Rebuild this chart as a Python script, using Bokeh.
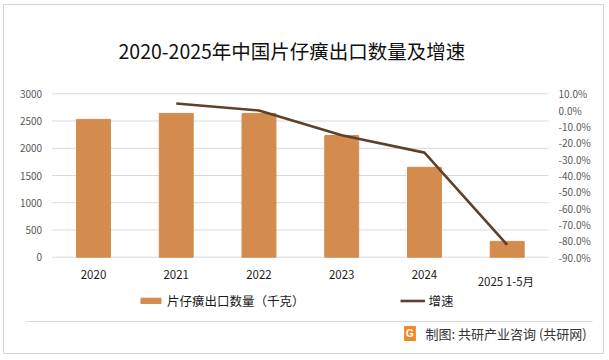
from bokeh.plotting import figure
from bokeh.models import (Range1d, LinearAxis, FixedTicker, PrintfTickFormatter, Legend,
                          LegendItem, Label, Arrow)
from bokeh.embed import file_html
from bokeh.resources import INLINE

# ---- data ----
years = ["2020", "2021", "2022", "2023", "2024", "2025  1-5月"]
qty = [2530, 2640, 2640, 2235, 1650, 290]
growth_years = ["2021", "2022", "2023", "2024", "2025  1-5月"]
growth = [4.1, -0.2, -15.4, -26.0, -82.4]
left_ticks = [0, 500, 1000, 1500, 2000, 2500, 3000]
right_ticks = [-90, -80, -70, -60, -50, -40, -30, -20, -10, 0, 10]

BAR = "#D38B4E"
LINE = "#5E412C"
CJK = "Noto Sans CJK SC"

# ---- layout (page pixels, y down) ----
W, H = 604, 354
FL, FT, FR, FB = 3, 4, 603, 353      # frame box = outer border of the chart
PITCH = 82.74                        # px per category
X0 = 93.0                            # px of first category centre
Y_TOP, Y_BOT = 93.3, 256.7           # px of top / bottom gridline


def fx(px):
    return px - FL


def fy(py):
    return FB - py


xs = list(range(len(years)))
gxs = [years.index(g) for g in growth_years]


def yr(lo, hi):
    per = (hi - lo) / (Y_BOT - Y_TOP)
    return Range1d(lo - (FB - Y_BOT) * per, hi + (Y_TOP - FT) * per)


p = figure(width=W, height=H, output_backend="svg", toolbar_location=None, title=None,
           x_range=Range1d((FL - X0) / PITCH, (FR - X0) / PITCH),
           y_range=yr(left_ticks[0], left_ticks[-1]),
           min_border_left=FL, min_border_right=W - FR, min_border_top=FT,
           min_border_bottom=H - FB)
p.extra_y_ranges = {"pct": yr(right_ticks[0], right_ticks[-1])}
p.outline_line_color = "#D4D4D4"
p.grid.visible = False

# gridlines spanning the category area only
p.segment(x0=[-0.5] * len(left_ticks), x1=[len(years) - 0.5] * len(left_ticks),
          y0=left_ticks, y1=left_ticks, line_color="#D9D9D9", line_width=1)

bars = p.vbar(x=xs, top=qty, width=0.41, color=BAR)
ln = p.line(x=gxs, y=growth, y_range_name="pct", line_color=LINE, line_width=2.6)

p.xaxis.visible = False
p.yaxis.visible = False

left = LinearAxis(ticker=FixedTicker(ticks=left_ticks), fixed_location=-0.5)
right = LinearAxis(y_range_name="pct", ticker=FixedTicker(ticks=right_ticks),
                   formatter=PrintfTickFormatter(format="%.1f%%"),
                   fixed_location=len(years) - 0.5)
bottom1 = LinearAxis(ticker=FixedTicker(ticks=xs[:-1]), fixed_location=0,
                     major_label_overrides={i: years[i] for i in xs[:-1]})
bottom2 = LinearAxis(ticker=FixedTicker(ticks=xs[-1:]), fixed_location=0,
                     major_label_overrides={xs[-1]: years[-1]})
p.add_layout(left, "left")
p.add_layout(right, "right")
p.add_layout(bottom1, "below")
p.add_layout(bottom2, "below")

for ax in [left, right, bottom1, bottom2]:
    ax.axis_line_color = None
    ax.major_tick_line_color = None
    ax.minor_tick_line_color = None
    ax.major_tick_out = 0
    ax.major_tick_in = 0
    ax.minor_tick_out = 0
    ax.minor_tick_in = 0
    ax.major_label_text_font = CJK
    ax.major_label_text_color = "#595959"
    ax.major_label_text_font_size = "10px"
    ax.major_label_standoff = 10
for ax in [bottom1, bottom2]:
    ax.major_label_text_font_size = "11.5px"
    ax.major_label_text_color = "#1a1a1a"
bottom1.major_label_standoff = 13
bottom2.major_label_standoff = 16

# title
p.add_layout(Label(x=fx(118), y=fy(50), x_units="screen", y_units="screen",
                   text="2020-2025年中国片仔癀出口数量及增速", text_align="left",
                   text_baseline="middle", text_font=CJK, text_font_size="19.5px",
                   text_color="#111111"))

legend = Legend(items=[LegendItem(label="片仔癀出口数量（千克）", renderers=[bars]),
                       LegendItem(label="增速", renderers=[ln])],
                orientation="horizontal", location=(fx(138), fy(309.5)), spacing=95,
                glyph_width=25, glyph_height=7, label_standoff=4, label_height=14,
                padding=0, margin=0, border_line_color=None, background_fill_alpha=0,
                label_text_font=CJK, label_text_font_size="12.5px", label_text_color="#1a1a1a")
p.add_layout(legend, "center")

# footer: separator, logo and credit
p.add_layout(Arrow(x_start=fx(25), y_start=fy(321), x_end=fx(592), y_end=fy(321),
                   start_units="screen", end_units="screen", end=None,
                   line_color="#D9D9D9", line_width=1))
p.add_layout(Label(x=fx(409.5), y=fy(333), x_units="screen", y_units="screen", text="G",
                   text_align="center", text_baseline="middle", text_font_size="10px",
                   text_font_style="bold", text_color="white", background_fill_color="#F0892A",
                   padding=2))
p.add_layout(Label(x=fx(425), y=fy(333), x_units="screen", y_units="screen",
                   text="制图: 共研产业咨询 (共研网)", text_align="left", text_baseline="middle",
                   text_font=CJK, text_font_size="13px", text_color="#333333"))

open("out.html", "w").write(file_html(p, INLINE))
